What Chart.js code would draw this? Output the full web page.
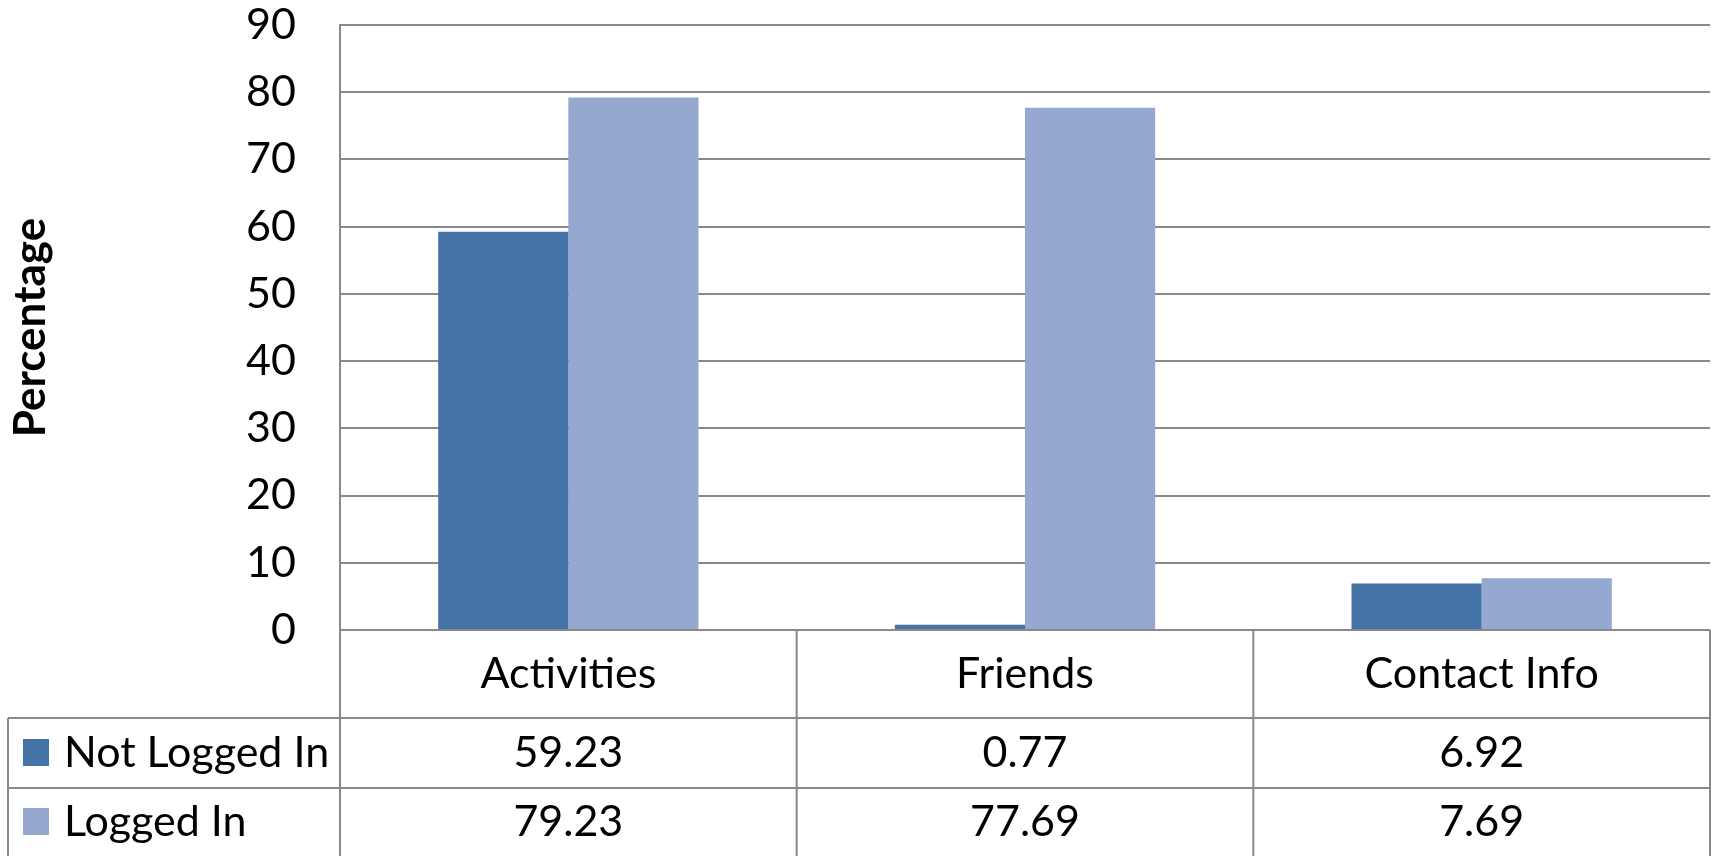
<!DOCTYPE html>
<html>
<head>
<meta charset="utf-8">
<title>Percentage</title>
<script src="https://cdn.jsdelivr.net/npm/chart.js@4/dist/chart.umd.min.js"></script>
<style>
  html, body { margin: 0; padding: 0; background: #fff; }
  canvas { display: block; }
</style>
</head>
<body>
<canvas id="myChart" width="1711" height="856"></canvas>
<script>
const categories = ['Activities', 'Friends', 'Contact Info']
const notLoggedIn = [59.23, 0.77, 6.92]
const loggedIn = [79.23, 77.69, 7.69]
const seriesNames = ['Not Logged In', 'Logged In']
const seriesColors = ['#4572a7', '#95a9d0']

const lineColor = '#898989'
const fontFamily = 'Lato, "Open Sans", sans-serif'
const textSize = 43

// data table under the plot, columns follow the x scale
const dataTable = {
    id: 'dataTable',
    afterDraw(chart) {
        const ctx = chart.ctx
        const x = chart.scales.x
        const area = chart.chartArea
        const colW = (x.right - x.left) / categories.length
        const top = area.bottom
        const catRow = 88
        const serRow = 70
        const bottom = chart.height
        const tableLeft = 8
        const rows = [notLoggedIn, loggedIn]

        ctx.save()
        ctx.strokeStyle = lineColor
        ctx.lineWidth = 2
        ctx.beginPath()
        // horizontal lines
        ctx.moveTo(x.left, top); ctx.lineTo(x.right, top)
        for (let r = 0; r < rows.length; r++) {
            const y = top + catRow + r * serRow
            ctx.moveTo(tableLeft, y); ctx.lineTo(x.right, y)
        }
        // vertical lines
        ctx.moveTo(tableLeft, top + catRow); ctx.lineTo(tableLeft, bottom)
        for (let i = 0; i <= categories.length; i++) {
            const cx = x.left + i * colW
            ctx.moveTo(cx, i === 0 ? area.top : top); ctx.lineTo(cx, bottom)
        }
        ctx.stroke()

        ctx.fillStyle = '#000'
        ctx.font = textSize + 'px ' + fontFamily
        ctx.textBaseline = 'middle'
        ctx.textAlign = 'center'
        categories.forEach((c, i) => {
            ctx.fillText(c, x.getPixelForValue(i), top + catRow / 2)
        })
        rows.forEach((vals, r) => {
            const rowTop = top + catRow + r * serRow
            const rowH = r === rows.length - 1 ? bottom - rowTop : serRow
            const yMid = rowTop + rowH / 2
            vals.forEach((v, i) => {
                ctx.fillText(v.toFixed(2), x.getPixelForValue(i), yMid)
            })
            ctx.fillStyle = seriesColors[r]
            ctx.fillRect(23, yMid - 14, 26, 27)
            ctx.fillStyle = '#000'
            ctx.textAlign = 'left'
            ctx.fillText(seriesNames[r], 64, yMid)
            ctx.textAlign = 'center'
        })
        ctx.restore()
    }
}

let ctx = document.getElementById('myChart')
let myChart = new Chart(ctx, {
    type: 'bar',
    data: {
        labels: categories,
        datasets: [{
            label: seriesNames[0],
            data: notLoggedIn,
            backgroundColor: seriesColors[0]
        }, {
            label: seriesNames[1],
            data: loggedIn,
            backgroundColor: seriesColors[1]
        }]
    },
    options: {
        responsive: false,
        animation: false,
        datasets: {
            bar: { categoryPercentage: 0.57, barPercentage: 1 }
        },
        layout: {
            padding: { left: 0, right: 1, top: 25, bottom: 226 }
        },
        plugins: {
            legend: { display: false },
            tooltip: { enabled: false }
        },
        scales: {
            x: { display: false },
            y: {
                min: 0,
                max: 90,
                afterFit: (scale) => {
                    scale.width = 340
                    scale.paddingTop = 0
                    scale.paddingBottom = 0
                },
                ticks: {
                    stepSize: 10,
                    padding: 44,
                    color: '#000',
                    font: { family: fontFamily, size: textSize }
                },
                grid: {
                    color: lineColor,
                    lineWidth: 2,
                    drawTicks: false
                },
                border: { display: true, color: lineColor, width: 2 },
                title: {
                    display: true,
                    text: 'Percentage',
                    color: '#000',
                    padding: { top: 4, bottom: 0 },
                    font: { family: fontFamily, size: 44, weight: 'bold' }
                }
            }
        }
    },
    plugins: [dataTable]
})
</script>
</body>
</html>
